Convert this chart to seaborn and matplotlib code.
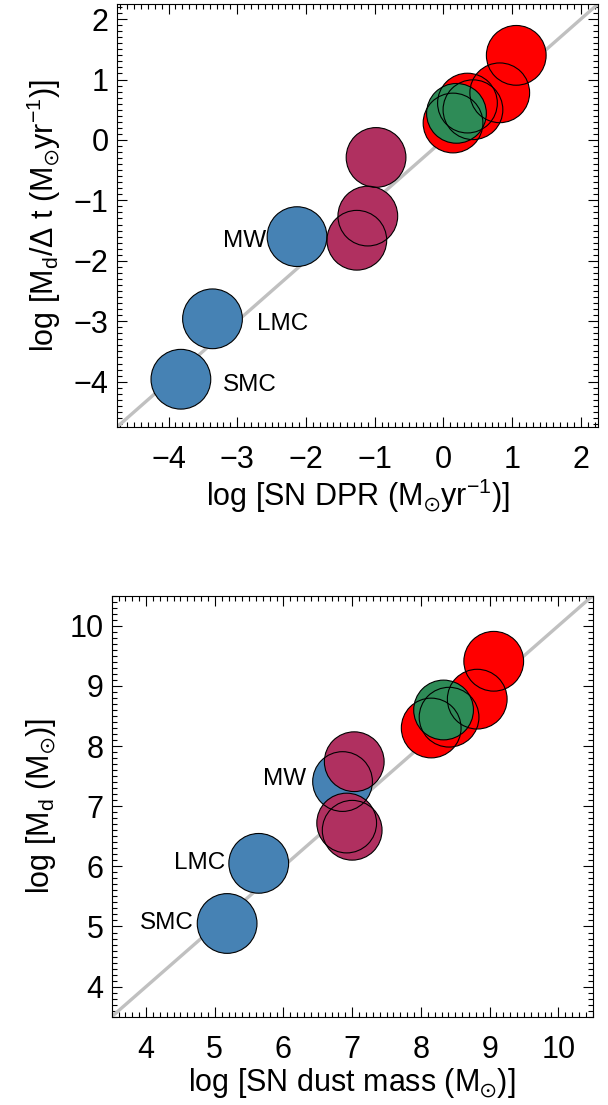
import numpy as np
import pandas as pd
import matplotlib
matplotlib.use('Agg')
import matplotlib.pyplot as plt
from matplotlib.ticker import MultipleLocator
import seaborn as sns

# galaxy groups (same order in both panels)
groups = ['local'] * 3 + ['mid'] * 3 + ['high'] * 5 + ['qso'] * 1
group_colors = {'local': '#4682B4', 'mid': '#B03060', 'high': '#FF0000', 'qso': '#2E8B57'}

# top panel: SN dust production rate vs. required rate
dpr_x = [-3.82, -3.36, -2.13, -0.98, -1.10, -1.26, 0.14, 0.35, 0.43, 0.82, 1.06, 0.19]
dpr_y = [-3.96, -2.96, -1.60, -0.29, -1.26, -1.66, 0.28, 0.61, 0.50, 0.78, 1.40, 0.44]

# bottom panel: SN dust mass vs. observed dust mass
groups_b = ['local'] * 3 + ['mid'] * 3 + ['high'] * 4 + ['qso'] * 1
mass_x = [5.18, 5.64, 6.86, 7.03, 6.92, 7.00, 8.15, 8.41, 8.82, 9.06, 8.33]
mass_y = [5.05, 6.05, 7.41, 7.74, 6.72, 6.60, 8.30, 8.48, 8.78, 9.41, 8.60]

names = ['SMC', 'LMC', 'MW']
dpr_lim = (-4.75, 2.25)
mass_lim = (3.5, 10.5)

sns.set_style('ticks')
plt.rcParams['font.family'] = ['Liberation Sans', 'DejaVu Sans']
plt.rcParams['mathtext.fontset'] = 'custom'
plt.rcParams['mathtext.rm'] = 'Liberation Sans'
plt.rcParams['mathtext.it'] = 'Liberation Sans:italic'
plt.rcParams['mathtext.bf'] = 'Liberation Sans:bold'
plt.rcParams['mathtext.fallback'] = 'stixsans'
for key in ['text.color', 'axes.labelcolor', 'xtick.color', 'ytick.color', 'axes.edgecolor']:
    plt.rcParams[key] = 'black'

MARKER_S = 1850


def draw_panel(ax, x, y, grp, lims, xlabel, ylabel, label_offsets, label_ha):
    df = pd.DataFrame({'x': x, 'y': y, 'group': grp})

    ax.axline((lims[0], lims[0]), slope=1, color='#c0c0c0', lw=2.4, zorder=1)

    # fills first, outlines afterwards so every rim stays visible
    sns.scatterplot(data=df, x='x', y='y', hue='group', palette=group_colors,
                    s=MARKER_S, linewidth=0, legend=False, ax=ax, zorder=2)
    sns.scatterplot(data=df, x='x', y='y', s=MARKER_S, facecolor='none',
                    edgecolor='black', linewidth=0.8, legend=False, ax=ax, zorder=3)

    for i, name in enumerate(names):
        ax.annotate(name, (x[i], y[i]), xytext=label_offsets[i],
                    textcoords='offset points', ha=label_ha[i], va='center',
                    fontsize=17.5, zorder=4)

    ax.set_xlim(lims)
    ax.set_ylim(lims)
    ax.xaxis.set_major_locator(MultipleLocator(1))
    ax.yaxis.set_major_locator(MultipleLocator(1))
    ax.xaxis.set_minor_locator(MultipleLocator(0.1))
    ax.yaxis.set_minor_locator(MultipleLocator(0.1))
    ax.tick_params(which='both', direction='in', top=True, right=True,
                   width=0.8, labelsize=22)
    ax.tick_params(axis='x', which='both', pad=13)
    ax.tick_params(axis='y', which='both', pad=6)
    ax.tick_params(which='major', length=7)
    ax.tick_params(which='minor', length=3.5)
    for sp in ax.spines.values():
        sp.set_linewidth(0.8)
    ax.set_xlabel(xlabel, fontsize=22, labelpad=1)
    ax.set_ylabel(ylabel, fontsize=22, labelpad=8)


fig = plt.figure(figsize=(6.08, 11.05), dpi=100)
ax1 = fig.add_axes([0.1924, 0.6136, 0.7912, 0.3828])
ax2 = fig.add_axes([0.1837, 0.0799, 0.7911, 0.3810])

draw_panel(ax1, dpr_x, dpr_y, groups, dpr_lim,
           r'log [SN DPR (M$_{\odot}$yr$^{-1}$)]',
           r'log [M$_{\rm d}$/$\Delta$ t (M$_{\odot}$yr$^{-1}$)]',
           [(30, -4), (32, -4), (-22, -3)], ['left', 'left', 'right'])
draw_panel(ax2, mass_x, mass_y, groups_b, mass_lim,
           r'log [SN dust mass (M$_{\odot}$)]',
           r'log [M$_{\rm d}$ (M$_{\odot}$)]',
           [(-24, 0), (-24, 0), (-26, 2)], ['right', 'right', 'right'])

fig.savefig('out.png', dpi=100)
